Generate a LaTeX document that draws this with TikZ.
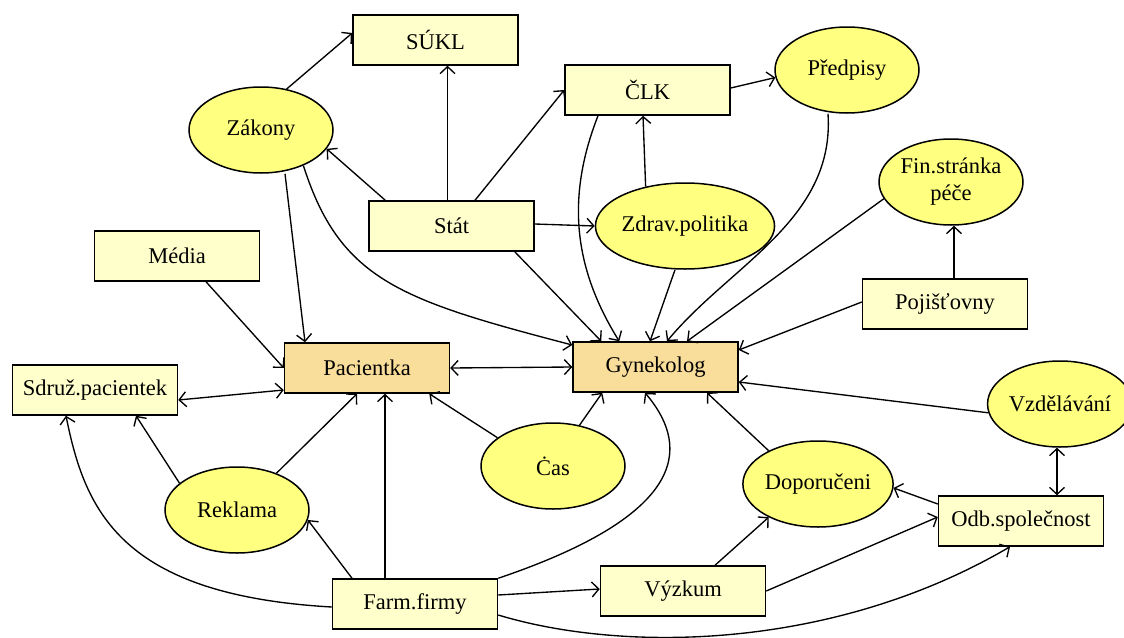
\documentclass[tikz,border=0pt]{standalone}
\usepackage{fontspec}
\setmainfont{Liberation Serif}
\usetikzlibrary{shapes.geometric,arrows.meta}
\definecolor{boxfill}{HTML}{FFFFCC}
\definecolor{mainfill}{HTML}{F9DD9A}
\definecolor{ellfill}{HTML}{FFFF80}
\tikzset{
  lbl/.style={font=\fontsize{22.5}{27}\selectfont, text=black, inner sep=0pt, draw=black, line width=1.5pt},
  box/.style={lbl, rectangle, fill=boxfill, minimum width=165pt, minimum height=50pt},
  mainbox/.style={lbl, rectangle, fill=mainfill, minimum width=165pt, minimum height=50pt},
  ell/.style={lbl, ellipse, fill=ellfill, minimum width=144pt, minimum height=86pt, align=center},
  arr/.style={line width=1.35pt, -{Straight Barb[length=7pt,width=15pt]}},
  darr/.style={line width=1.35pt, {Straight Barb[length=7pt,width=15pt]}-{Straight Barb[length=7pt,width=15pt]}}
}
\begin{document}
\begin{tikzpicture}[x=1pt,y=-1pt]
\useasboundingbox (0,0) rectangle (1124,637);
\fill[white] (0,0) rectangle (1124,637);
\clip (0,0) rectangle (1124,637);

% nodes
\node[box] (suk) at (435.5,40) {SÚKL};
\node[ell] (zak) at (261,130) {Zákony};
\node[box] (stat) at (451.5,226) {Stát};
\node[box] (media) at (177,256) {Média};
\node[box] (clk) at (647.5,90) {ČLK};
\node[ell] (pred) at (847,70) {Předpisy};
\node[ell] (zdrav) at (685,226) {Zdrav.politika};
\node[ell] (fin) at (951,182) {Fin.stránka\\péče};
\node[box] (poj) at (945,304) {Pojišťovny};
\node[mainbox] (pac) at (367,368) {Pacientka};
\node[box] (sdr) at (95,390) {Sdruž.pacientek};
\node[ell] (rek) at (237,510) {Reklama};
\node[box] (farm) at (415,604) {Farm.firmy};
\node[ell] (cas) at (553,466) {Ċas};
\node[mainbox] (gyn) at (655.5,367) {Gynekolog};
\node[ell] (vzd) at (1060,404) {Vzdělávání};
\node[ell] (dop) at (818,484) {Doporučeni};
\node[box] (odb) at (1021,521) {Odb.společnost};
\node[box] (vyz) at (683,591) {Výzkum};

% connectors
\draw[arr] (zak.58) -- ([yshift=7]suk.west);
\draw[arr] ([xshift=-4]stat.north) -- ([xshift=-4]stat.north |- suk.south);
\draw[arr] ([xshift=17]stat.north west) -- (zak.-16);
\draw[arr] ([xshift=23.5]stat.north) -- (clk.west);
\draw[arr] ([yshift=2]stat.east) -- (zdrav.west);
\draw[arr] ([xshift=-20]stat.south east) -- ([xshift=29]gyn.north west);
\draw[arr] ([yshift=2]clk.east) -- (pred.186);
\draw[arr] (zdrav.135) -- ([xshift=-4.5]clk.south);
\draw[arr] ([xshift=-49.5]clk.south) .. controls (565,200) and (575,270) .. ([xshift=47]gyn.north west);
\draw[arr] ([xshift=-10]zdrav.south) -- ([xshift=-5.5]gyn.north);
\draw[arr] ([xshift=-19]pred.south) .. controls (835,220) and (730,265) .. ([xshift=11.5]gyn.north);
\draw[arr] (fin.194) -- ([xshift=31.5]gyn.north);
\draw[arr] ([xshift=9]poj.north) -- ([xshift=3]fin.south);
\draw[arr] ([yshift=2]poj.west) -- ([yshift=17]gyn.east);
\draw[arr] (vzd.187) -- ([yshift=-15]gyn.east);
\draw[darr] ([xshift=-3]vzd.south) -- ([xshift=-3]vzd.south |- odb.north);
\draw[arr] ([yshift=17]odb.west) -- (dop.-3);
\draw[arr] (dop.146) -- ([xshift=51.5]gyn.south);
\draw[arr] ([xshift=32]vyz.north) -- (dop.214);
\draw[arr] (vyz.east) -- ([yshift=4]odb.west);
\draw[arr] ([yshift=-11]farm.east) .. controls (620,652) and (830,652) .. ([xshift=-11]odb.south);
\draw[arr] ([yshift=9]farm.east) -- ([yshift=2]vyz.west);
\draw[arr] (farm.north east) .. controls (700,510) and (685,440) .. ([xshift=-10.5]gyn.south);
\draw[arr] ([xshift=-30]farm.north) -- ([xshift=-30]farm.north |- pac.south);
\draw[arr] ([xshift=-63]farm.north) -- (rek.-8);
\draw[arr] (rek.43) -- ([xshift=-10]pac.south);
\draw[arr] (rek.155) -- ([xshift=41]sdr.south);
\draw[arr] ([yshift=-3]farm.west) .. controls (120,595) and (85,510) .. ([xshift=-29]sdr.south);
\draw[darr] ([yshift=-10]sdr.east) -- ([yshift=-22]pac.west);
\draw[arr] ([xshift=29]media.south) -- (pac.west);
\draw[arr] ([xshift=24]zak.south) -- ([xshift=-62]pac.north);
\draw[arr] (zak.-40) .. controls (340,280) and (400,300) .. ([yshift=22]gyn.west);
\draw[arr] (cas.153) -- ([xshift=-21]pac.south east);
\draw[arr] (cas.57) -- ([xshift=30]gyn.south west);
\draw[darr] (pac.east) -- (gyn.west);
\end{tikzpicture}
\end{document}
